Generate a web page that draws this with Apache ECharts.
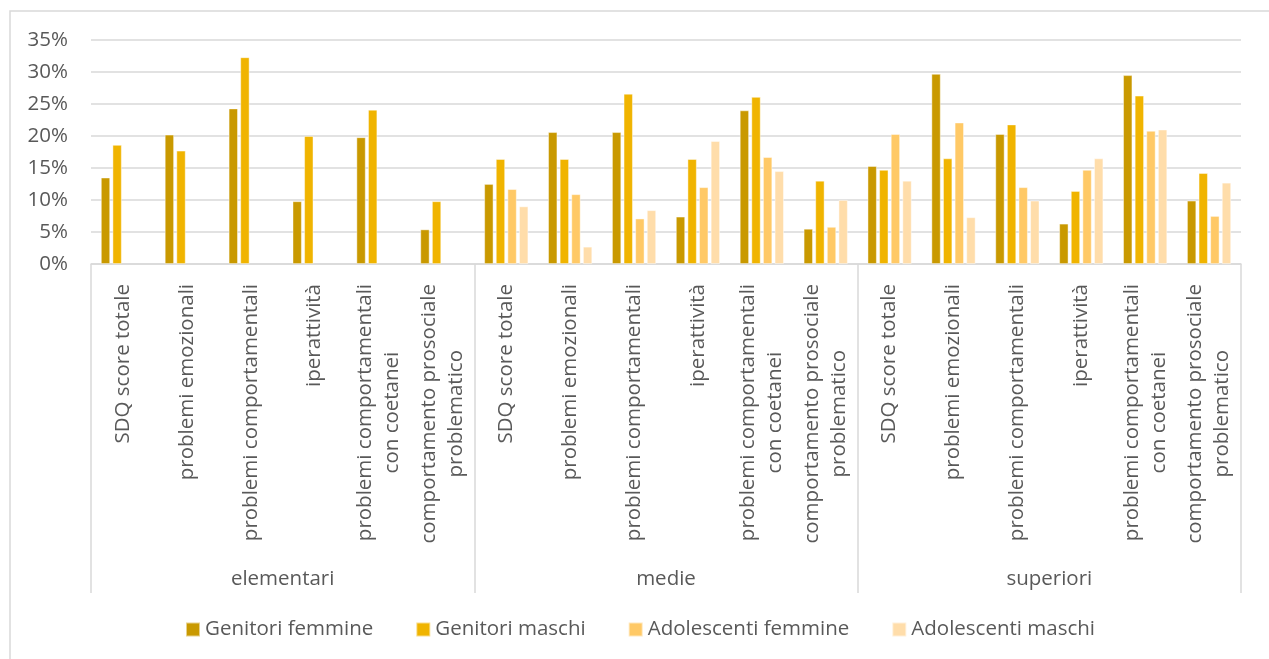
<!DOCTYPE html>
<html>
<head>
<meta charset="utf-8">
<script src="https://cdn.jsdelivr.net/npm/echarts@6/dist/echarts.min.js"></script>
<style>
  html, body { margin: 0; padding: 0; background: #fff; }
  #chart { width: 1269px; height: 659px; }
</style>
</head>
<body>
<div id="chart"></div>
<script>
// indicatori SDQ, ripetuti per ogni ordine di scuola
const indicatori = [
  "SDQ score totale",
  "problemi emozionali",
  "problemi comportamentali",
  "iperattività",
  "problemi comportamentali\ncon coetanei",
  "comportamento prosociale\nproblematico",
];
const scuole = ["elementari", "medie", "superiori"];
const categorie = scuole.flatMap(() => indicatori);

const yTicks = [0, 5, 10, 15, 20, 25, 30, 35];

// valori in percentuale
const genitoriFemmine = [13.5, 20.2, 24.3, 9.8, 19.8, 5.4, 12.5, 20.6, 20.6, 7.4, 24.0, 5.5, 15.3, 29.7, 20.3, 6.3, 29.5, 9.9];
const genitoriMaschi = [18.6, 17.7, 32.3, 20.0, 24.1, 9.8, 16.4, 16.4, 26.6, 16.4, 26.1, 13.0, 14.7, 16.5, 21.8, 11.4, 26.3, 14.2];
const adolescentiFemmine = [null, null, null, null, null, null, 11.7, 10.9, 7.1, 12.0, 16.7, 5.8, 20.3, 22.1, 12.0, 14.7, 20.8, 7.5];
const adolescentiMaschi = [null, null, null, null, null, null, 9.0, 2.7, 8.4, 19.2, 14.5, 10.0, 13.0, 7.3, 9.9, 16.5, 21.0, 12.7];

const serie = [
  { name: "Genitori femmine", data: genitoriFemmine, color: "#C99900" },
  { name: "Genitori maschi", data: genitoriMaschi, color: "#F0B400" },
  { name: "Adolescenti femmine", data: adolescentiFemmine, color: "#FFC966" },
  { name: "Adolescenti maschi", data: adolescentiMaschi, color: "#FFDDAA" },
];

const FONT = "'Open Sans', 'Noto Sans', sans-serif";
const TEXT = "#595959";
const LINE = "#d9d9d9";

const chart = echarts.init(document.getElementById("chart"), null, { renderer: "canvas" });

chart.setOption({
  animation: false,
  backgroundColor: "#ffffff",
  textStyle: { fontFamily: FONT },
  graphic: [
    {
      type: "rect",
      silent: true,
      shape: { x: 10, y: 11, width: 1500, height: 900 },
      style: { fill: "none", stroke: LINE, lineWidth: 1.5 },
    },
  ],
  grid: { left: 91, right: 28, top: 40, bottom: 395 },
  legend: {
    left: 180,
    top: 614,
    itemWidth: 14,
    itemHeight: 14,
    itemGap: 42,
    icon: "rect",
    textStyle: { color: TEXT, fontSize: 20.5, fontFamily: FONT },
    data: serie.map((s) => s.name),
  },
  xAxis: [
    {
      type: "category",
      position: "bottom",
      data: categorie,
      axisLine: { show: true, lineStyle: { color: LINE, width: 1.5 } },
      axisTick: { show: false },
      axisLabel: {
        interval: 0,
        rotate: 90,
        margin: 20,
        formatter: (v) => v.split("\n").map((r) => "{a|" + r + "}").join("\n"),
        rich: {
          a: { align: "center", color: TEXT, fontSize: 20.5, fontFamily: FONT, lineHeight: 27 },
        },
      },
    },
    {
      type: "category",
      position: "bottom",
      data: scuole,
      axisLine: { show: false },
      axisTick: { show: true, length: 329, lineStyle: { color: LINE, width: 1.5 } },
      axisLabel: { margin: 305, color: TEXT, fontSize: 20.5, fontFamily: FONT },
    },
  ],
  yAxis: {
    type: "value",
    min: yTicks[0],
    max: yTicks[yTicks.length - 1],
    interval: 5,
    axisLine: { show: false },
    axisTick: { show: false },
    axisLabel: { formatter: "{value}%", margin: 23, color: TEXT, fontSize: 20.5, fontFamily: FONT },
    splitLine: { lineStyle: { color: LINE, width: 1.5 } },
  },
  series: serie.map((s) => ({
    name: s.name,
    type: "bar",
    xAxisIndex: 0,
    data: s.data,
    barGap: "26%",
    barCategoryGap: "31%",
    itemStyle: { color: s.color, borderColor: "rgba(255,255,255,0.55)", borderWidth: 0.8 },
  })),
});
</script>
</body>
</html>
